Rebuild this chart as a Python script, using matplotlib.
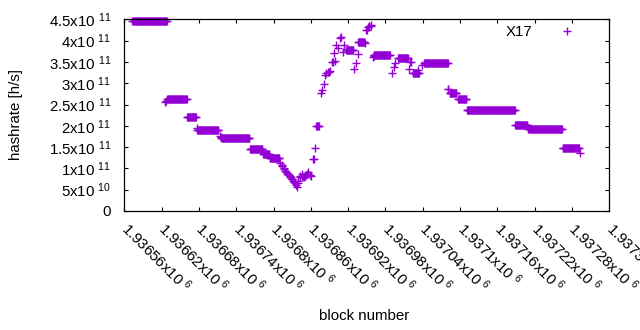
import matplotlib
matplotlib.use('Agg')
import matplotlib.pyplot as plt
import numpy as np
from matplotlib.lines import Line2D

plt.rcParams['font.family'] = ['Liberation Sans', 'DejaVu Sans']
plt.rcParams['mathtext.fontset'] = 'custom'
plt.rcParams['mathtext.rm'] = 'Liberation Sans'
plt.rcParams['mathtext.it'] = 'Liberation Sans:italic'
plt.rcParams['mathtext.bf'] = 'Liberation Sans:bold'

# ---------------- data ----------------
BASE = 1936560  # first block on the x axis

# constant-level runs (block offsets from BASE, inclusive) and hashrate [h/s]
seg_start = [13, 69, 101, 117, 156, 202, 223, 234, 309, 357, 376, 401, 440, 464, 482, 523, 537, 551, 629, 650, 705]
seg_end   = [68, 100, 115, 151, 201, 222, 233, 249, 313, 368, 386, 427, 456, 474, 520, 534, 550, 627, 648, 704, 731]
seg_value = [4.45e11, 2.62e11, 2.20e11, 1.90e11, 1.71e11, 1.45e11, 1.33e11, 1.24e11, 1.99e11, 3.78e11,
             3.96e11, 3.66e11, 3.58e11, 3.23e11, 3.47e11, 2.78e11, 2.62e11, 2.37e11, 2.01e11, 1.92e11, 1.47e11]

# individual points (block offsets from BASE) and hashrate [h/s]
pt_block = [66, 67, 116, 153, 155,
            251, 253, 254, 256, 257, 259, 260, 262, 263, 265, 266, 268, 269, 270, 272, 273, 275, 276, 277,
            279, 280, 282, 283, 285, 286, 288, 289, 291, 292, 293, 295, 296, 298, 300,
            304, 305, 307, 316, 318, 321, 323, 325, 327, 329, 331, 334, 336, 337, 339, 341, 344, 347, 348,
            351, 354, 370, 372, 375, 387, 389, 390, 392, 394, 396, 397,
            400, 402, 430, 434, 436, 457, 459, 461, 472, 479, 520, 521, 628, 649, 733]
pt_value = [2.57e11, 2.59e11, 1.95e11, 1.76e11, 1.74e11,
            1.12e11, 1.08e11, 1.06e11, 1.01e11, 0.99e11, 0.95e11, 0.92e11, 0.88e11, 0.86e11, 0.84e11, 0.82e11,
            0.79e11, 0.76e11, 0.74e11, 0.70e11, 0.68e11, 0.65e11, 0.62e11, 0.57e11,
            0.66e11, 0.70e11, 0.80e11, 0.83e11, 0.86e11, 0.83e11, 0.79e11, 0.80e11, 0.82e11, 0.84e11, 0.86e11,
            0.91e11, 0.88e11, 0.84e11, 0.82e11,
            1.21e11, 1.22e11, 1.49e11, 2.76e11, 2.84e11, 2.97e11, 3.19e11, 3.23e11, 3.27e11, 3.27e11, 3.29e11,
            3.49e11, 3.50e11, 3.70e11, 3.53e11, 3.90e11, 3.82e11, 4.05e11, 4.08e11,
            3.74e11, 3.90e11, 3.33e11, 3.48e11, 3.68e11, 3.94e11, 4.25e11, 4.25e11, 4.33e11, 4.34e11, 4.37e11, 4.35e11,
            3.62e11, 3.63e11, 3.23e11, 3.37e11, 3.47e11, 3.33e11, 3.50e11, 3.49e11, 3.31e11, 3.43e11, 2.87e11, 2.86e11,
            2.37e11, 1.96e11, 1.35e11]

series_name = 'X17'

x_ticks = [1936560 + 60 * k for k in range(14)]
x_ticklabels = ['1.93656x10 $^{6}$', '1.93662x10 $^{6}$', '1.93668x10 $^{6}$', '1.93674x10 $^{6}$',
                '1.9368x10 $^{6}$', '1.93686x10 $^{6}$', '1.93692x10 $^{6}$', '1.93698x10 $^{6}$',
                '1.93704x10 $^{6}$', '1.9371x10 $^{6}$', '1.93716x10 $^{6}$', '1.93722x10 $^{6}$',
                '1.93728x10 $^{6}$', '1.93734x10 $^{6}$']
y_ticks = [0, 0.5e11, 1e11, 1.5e11, 2e11, 2.5e11, 3e11, 3.5e11, 4e11, 4.5e11]
y_ticklabels = ['0', '5x10 $^{10}$', '1x10 $^{11}$', '1.5x10 $^{11}$', '2x10 $^{11}$', '2.5x10 $^{11}$',
                '3x10 $^{11}$', '3.5x10 $^{11}$', '4x10 $^{11}$', '4.5x10 $^{11}$']

# ---------------- assemble ----------------
xs, ys = [], []
for s, e, v in zip(seg_start, seg_end, seg_value):
    b = np.arange(s, e + 1)
    xs.append(BASE + b)
    ys.append(np.full(len(b), v))
xs.append(BASE + np.array(pt_block))
ys.append(np.array(pt_value))
x = np.concatenate(xs)
y = np.concatenate(ys)

COLOR = '#9400d3'
FS = 10.8
MS = 5.4
MEW = 1.0

fig = plt.figure(figsize=(6.4, 3.3), dpi=100)
ax = fig.add_axes([124.4 / 640, 1 - 211 / 330, (609.3 - 124.4) / 640, (211 - 19.3) / 330])

ax.plot(x, y, linestyle='none', marker='+', ms=MS, mew=MEW, color=COLOR, clip_on=False)

ax.set_xlim(1936560, 1937340)
ax.set_ylim(0, 4.5e11)
ax.set_xticks(x_ticks)
ax.set_yticks(y_ticks)
ax.set_yticklabels(y_ticklabels, fontsize=FS)
ax.set_xticklabels(x_ticklabels, fontsize=FS, rotation=-45, ha='left', va='center',
                   rotation_mode='anchor')

for sp in ax.spines.values():
    sp.set_linewidth(0.9)
ax.tick_params(axis='both', direction='in', length=3.2, width=0.8, top=True, right=True)
ax.tick_params(axis='y', pad=9.4)
ax.tick_params(axis='x', pad=10.5)

fig.text(16.5 / 640, 1 - 115 / 330, 'hashrate [h/s]', rotation=90, ha='center', va='center', fontsize=FS)
fig.text(364 / 640, 1 - 316 / 330, 'block number', ha='center', va='center', fontsize=FS)

handle = Line2D([], [], linestyle='none', marker='+', ms=MS, mew=MEW, color=COLOR)
ax.legend([handle], [series_name], loc='center right',
          bbox_to_anchor=((589 - 124.4) / 484.9, (211 - 32) / 191.7),
          frameon=False, markerfirst=False, borderpad=0, handlelength=2.0, handletextpad=1.3,
          fontsize=FS)

fig.savefig('out.png', dpi=100)
